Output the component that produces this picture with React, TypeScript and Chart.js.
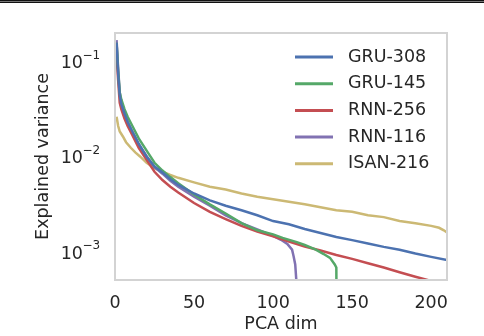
import React, { useEffect, useRef } from "react";
import { Chart, registerables } from "chart.js";

Chart.register(...registerables);

// ---- data ----
const seriesNames = ["GRU-308", "GRU-145", "RNN-256", "RNN-116", "ISAN-216"];
const seriesColors = ["#4C72B0", "#55A868", "#C44E52", "#8172B2", "#CCB974"];

const gru308Dims = [1, 2, 3, 4, 6, 8, 11, 15, 20, 25, 30, 35, 40, 50, 60, 70, 80, 90, 100, 110, 120, 130, 140, 150, 160, 170, 180, 190, 200, 210];
const gru308Vals = [0.15, 0.07, 0.042, 0.034, 0.027, 0.022, 0.0175, 0.013, 0.0095, 0.0075, 0.0065, 0.0055, 0.0048, 0.0039, 0.0033, 0.0029, 0.0026, 0.0023, 0.002, 0.00185, 0.00165, 0.0015, 0.00136, 0.00126, 0.00116, 0.00107, 0.001, 0.00091, 0.00084, 0.00078];

const gru145Dims = [1, 2, 3, 4, 6, 8, 11, 15, 20, 25, 30, 35, 40, 50, 60, 70, 80, 90, 100, 106, 115, 120, 127, 132, 136, 139, 140, 141];
const gru145Vals = [0.15, 0.075, 0.045, 0.038, 0.03, 0.025, 0.02, 0.0148, 0.011, 0.0082, 0.0068, 0.0058, 0.005, 0.0038, 0.003, 0.0024, 0.0019, 0.0016, 0.00145, 0.00133, 0.0012, 0.00112, 0.001, 0.0009, 0.00082, 0.0007, 0.00065, 0.000001];

const rnn256Dims = [1, 2, 3, 4, 6, 8, 11, 15, 20, 25, 30, 35, 40, 50, 60, 70, 80, 90, 100, 110, 120, 130, 140, 150, 160, 170, 180, 190, 200, 210];
const rnn256Vals = [0.11, 0.06, 0.035, 0.03, 0.024, 0.02, 0.016, 0.0118, 0.0088, 0.0066, 0.0054, 0.0046, 0.004, 0.0031, 0.0025, 0.0021, 0.00178, 0.00155, 0.00138, 0.00122, 0.00108, 0.00098, 0.00088, 0.0008, 0.00072, 0.00065, 0.00058, 0.00052, 0.00047, 0.00042];

const rnn116Dims = [1, 2, 3, 4, 6, 8, 11, 15, 20, 25, 30, 35, 40, 50, 60, 70, 80, 90, 100, 105, 109, 112, 113, 114, 115, 116];
const rnn116Vals = [0.16, 0.08, 0.045, 0.036, 0.028, 0.022, 0.017, 0.0128, 0.0096, 0.0074, 0.0063, 0.0053, 0.0046, 0.0036, 0.0029, 0.0023, 0.0019, 0.00163, 0.0014, 0.00127, 0.00115, 0.001, 0.00085, 0.0007, 0.0004, 0.000001];

const isan216Dims = [1, 2, 3, 5, 7, 10, 13, 16, 20, 25, 30, 35, 40, 50, 60, 70, 80, 90, 100, 110, 120, 130, 140, 150, 160, 170, 180, 190, 200, 205, 208, 210];
const isan216Vals = [0.025, 0.02, 0.0175, 0.0155, 0.0135, 0.0118, 0.0105, 0.0095, 0.0082, 0.0072, 0.0066, 0.0061, 0.0057, 0.0051, 0.0046, 0.0043, 0.0039, 0.0036, 0.0034, 0.0032, 0.003, 0.0028, 0.0026, 0.0025, 0.0023, 0.0022, 0.002, 0.0019, 0.00178, 0.0017, 0.0016, 0.00152];

const xTicks = [0, 50, 100, 150, 200];
const yTicks = [1e-1, 1e-2, 1e-3];
const yTickBase = "10";
const yTickExponents = ["−1", "−2", "−3"];
const xTitle = "PCA dim";
const yTitle = "Explained variance";

const allDims = [gru308Dims, gru145Dims, rnn256Dims, rnn116Dims, isan216Dims];
const allVals = [gru308Vals, gru145Vals, rnn256Vals, rnn116Vals, isan216Vals];

const FONT = "'DejaVu Sans', sans-serif";
const TEXT = "#262626";
const FS = 17.5;

const frameAndLegend = {
  id: "frameAndLegend",
  afterDatasetsDraw(chart: any) {
    const { ctx, chartArea } = chart;
    const { left, top, right, bottom } = chartArea;
    ctx.save();
    ctx.strokeStyle = "#d3d3d3";
    ctx.lineWidth = 2;
    ctx.strokeRect(left, top, right - left, bottom - top);
    // legend
    ctx.font = `${FS}px ${FONT}`;
    ctx.textBaseline = "middle";
    ctx.textAlign = "left";
    seriesNames.forEach((name, i) => {
      const y = top + 24 + i * 26.7;
      ctx.strokeStyle = seriesColors[i];
      ctx.lineWidth = 3;
      ctx.lineCap = "butt";
      ctx.beginPath();
      ctx.moveTo(right - 152, y);
      ctx.lineTo(right - 114, y);
      ctx.stroke();
      ctx.fillStyle = TEXT;
      ctx.fillText(name, right - 99, y);
    });
    // y tick labels with superscript exponents, positioned by the y scale
    const ys = chart.scales.y;
    ctx.fillStyle = TEXT;
    ctx.textBaseline = "alphabetic";
    yTicks.forEach((v, i) => {
      const py = ys.getPixelForValue(v);
      const xr = left - 32;
      ctx.font = `${FS}px ${FONT}`;
      ctx.textAlign = "right";
      ctx.fillText(yTickBase, xr, py + 8.9);
      ctx.font = `12px ${FONT}`;
      ctx.textAlign = "left";
      ctx.fillText(yTickExponents[i], xr - 0.5, py - 1);
    });
    ctx.restore();
  },
};

export default function App() {
  const ref = useRef<HTMLCanvasElement | null>(null);

  useEffect(() => {
    document.body.style.margin = "0";
    const canvas = ref.current;
    if (!canvas) return;
    const datasets = seriesNames.map((name, i) => ({
      label: name,
      data: allDims[i].map((d, j) => ({ x: d, y: allVals[i][j] })),
      borderColor: seriesColors[i],
      backgroundColor: seriesColors[i],
      borderWidth: 2.5,
      pointRadius: 0,
      tension: 0,
      fill: false,
    }));
    const chart = new Chart(canvas, {
      type: "line",
      data: { datasets },
      plugins: [frameAndLegend],
      options: {
        animation: false,
        responsive: false,
        maintainAspectRatio: false,
        layout: { padding: { left: 0, right: 37, top: 33, bottom: 0 } },
        plugins: { legend: { display: false }, tooltip: { enabled: false } },
        scales: {
          x: {
            type: "linear",
            min: 0,
            max: 210,
            grid: { display: false, drawTicks: false },
            border: { display: false },
            afterBuildTicks: (s: any) => {
              s.ticks = xTicks.map((v) => ({ value: v }));
            },
            afterFit: (s: any) => {
              s.height = 56;
            },
            ticks: {
              color: TEXT,
              font: { family: FONT, size: FS },
              padding: 13,
              maxRotation: 0,
              callback: (v: any) => String(v),
            },
            title: {
              display: true,
              text: xTitle,
              color: TEXT,
              font: { family: FONT, size: FS },
              padding: { top: 0, bottom: 1 },
            },
          },
          y: {
            type: "logarithmic",
            min: 4.8e-4,
            max: 0.19,
            grid: { display: false, drawTicks: false },
            border: { display: false },
            afterBuildTicks: (s: any) => {
              s.ticks = yTicks.map((v) => ({ value: v }));
            },
            afterFit: (s: any) => {
              s.width = 115;
            },
            ticks: { display: false },
            title: {
              display: true,
              text: yTitle,
              color: TEXT,
              font: { family: FONT, size: FS },
              padding: { top: 33, bottom: 0 },
            },
          },
        },
      },
    });
    return () => chart.destroy();
  }, []);

  return (
    <div style={{ position: "relative", width: 484, height: 336, background: "#fff", overflow: "hidden" }}>
      <canvas ref={ref} width={484} height={336} style={{ display: "block", width: 484, height: 336 }} />
      <div style={{ position: "absolute", left: 0, top: 0, width: 484, height: 1, background: "#111" }} />
      <div style={{ position: "absolute", left: 0, top: 1, width: 484, height: 1, background: "#777" }} />
      <div style={{ position: "absolute", left: 0, top: 2, width: 484, height: 1, background: "#111" }} />
    </div>
  );
}
